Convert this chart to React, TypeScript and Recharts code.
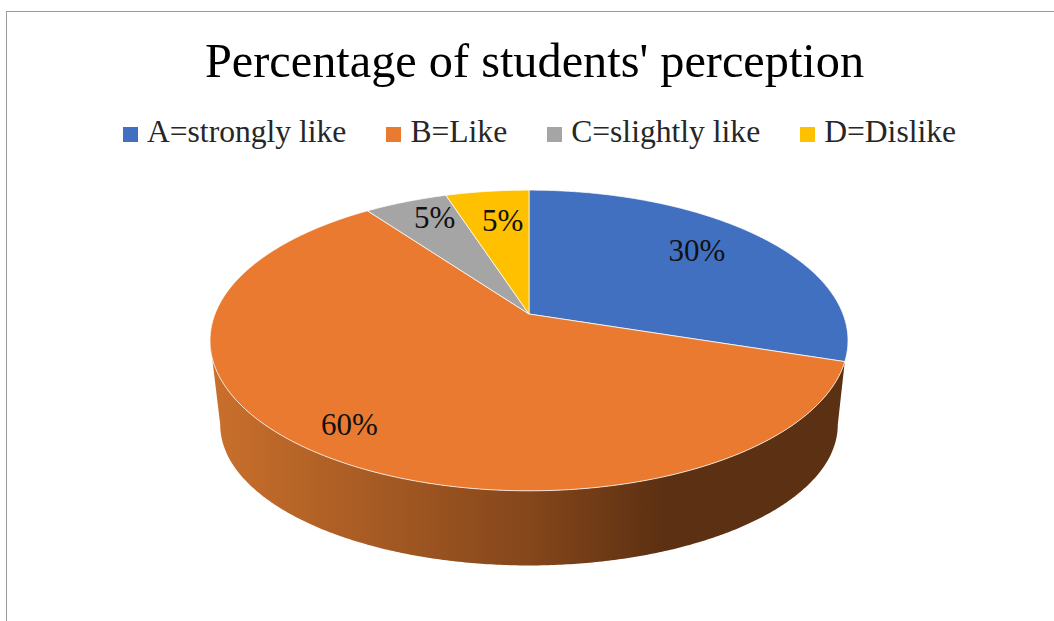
import { PieChart, Pie, Legend } from "recharts";

const categories = ["A=strongly like", "B=Like", "C=slightly like", "D=Dislike"];
const shares = [30, 60, 5, 5];
const colors = ["#4270c0", "#ea7a30", "#a5a5a5", "#ffc000"];

const tableData = categories.map((name, i) => ({ name, value: shares[i], fill: colors[i] }));

const SERIF = '"Liberation Serif", "Times New Roman", serif';

// how far out along the radius each percentage sits, plus a small hand nudge
const labelReach = [0.7, 0.85, 0.72, 0.72];
const labelNudge = [
  [2, -8],
  [-1, -3],
  [-2, -13],
  [5, -1],
];

// tilt of the disc: far side is squeezed, near side is stretched
const TILT = -0.176;
const TOP_SQUASH = 0.288;
const BASE_SCALE = 0.968;
const BASE_SQUASH = 0.21;
const BASE_DROP = 86;
// clock angles where the outline is widest, the wall is hidden outside these
const WALL_FROM = 100.1;
const WALL_TO = 259.9;

type Geo = { cx: number; cy: number; outerRadius: number };

function topPoint(g: Geo, clock: number, reach = 1) {
  const rad = (clock * Math.PI) / 180;
  const u = Math.sin(rad) * reach;
  const v = -Math.cos(rad) * reach;
  const w = 1 + TILT * v;
  return [g.cx + (g.outerRadius * u) / w, (g.outerRadius * TOP_SQUASH * v + g.cy) / w];
}

function basePoint(g: Geo, clock: number) {
  const rad = (clock * Math.PI) / 180;
  const u = Math.sin(rad);
  const v = -Math.cos(rad);
  const w = 1 + TILT * v;
  return [
    g.cx + (g.outerRadius * BASE_SCALE * u) / w,
    (g.outerRadius * BASE_SQUASH * v + g.cy + BASE_DROP) / w,
  ];
}

function sweep(from: number, to: number, at: (clock: number) => number[]) {
  const pts: number[][] = [];
  const steps = Math.max(1, Math.ceil(Math.abs(to - from) * 2));
  for (let i = 0; i <= steps; i++) pts.push(at(from + ((to - from) * i) / steps));
  return pts;
}

function toPath(pts: number[][]) {
  return pts.map((p, i) => `${i ? "L" : "M"}${p[0].toFixed(2)} ${p[1].toFixed(2)}`).join(" ") + " Z";
}

// eslint-disable-next-line @typescript-eslint/no-explicit-any
function DiscSlice(props: any) {
  const { cx, cy, outerRadius, startAngle, endAngle, fill, index } = props;
  const g = { cx, cy, outerRadius };
  const from = 90 - startAngle;
  const to = 90 - endAngle;
  const rim = sweep(from, to, (c) => topPoint(g, c));
  const showWall = index === 1;
  return (
    <g>
      {showWall && (
        <>
          <defs>
            <linearGradient id="wallShade" gradientUnits="userSpaceOnUse" x1="215" y1="0" x2="848" y2="0">
              <stop offset="0" stopColor="#c96f2c" />
              <stop offset="0.5" stopColor="#84461b" />
              <stop offset="0.71" stopColor="#5c3012" />
              <stop offset="1" stopColor="#5c3012" />
            </linearGradient>
          </defs>
          <path
            d={toPath([
              ...sweep(from, WALL_TO, (c) => topPoint(g, c)),
              ...sweep(WALL_TO, WALL_FROM, (c) => basePoint(g, c)),
            ])}
            fill="url(#wallShade)"
          />
        </>
      )}
      <path d={toPath([[cx, cy], ...rim])} fill={fill} stroke="#fff" strokeOpacity={0.75} strokeWidth={1} />
    </g>
  );
}

// eslint-disable-next-line @typescript-eslint/no-explicit-any
function SliceLabel(props: any) {
  const { cx, cy, outerRadius, midAngle, index, value } = props;
  const [x, y] = topPoint({ cx, cy, outerRadius }, 90 - midAngle, labelReach[index]);
  return (
    <text
      x={x + labelNudge[index][0]}
      y={y + labelNudge[index][1]}
      textAnchor="middle"
      dominantBaseline="central"
      fontFamily={SERIF}
      fontSize={31}
      fill="#111"
    >
      {value}%
    </text>
  );
}

export default function App() {
  return (
    <div style={{ position: "fixed", left: 0, top: 0, width: 1054, height: 621, overflow: "hidden", background: "#fff" }}>
      <div
        style={{
          position: "absolute",
          left: 6,
          top: 11,
          width: 1060,
          height: 620,
          borderTop: "1.5px solid #9a9a9a",
          borderLeft: "1.5px solid #9a9a9a",
        }}
      />
      <PieChart width={1054} height={621} margin={{ top: 0, right: 0, bottom: 0, left: 0 }} style={{ position: "absolute" }}>
        <text x={534.5} y={76.5} textAnchor="middle" fontFamily={SERIF} fontSize={48.3} fill="#000">
          Percentage of students' perception
        </text>
        <Legend
          verticalAlign="top"
          iconType="square"
          iconSize={15}
          wrapperStyle={{ top: 114, left: 0, width: 1119, fontFamily: SERIF, fontSize: 31.6 }}
          formatter={(value: string) => (
            <span style={{ color: "#262626", marginLeft: 5, marginRight: 30 }}>{value}</span>
          )}
        />
        <Pie
          data={tableData}
          dataKey="value"
          nameKey="name"
          cx={529}
          cy={278}
          outerRadius={314}
          startAngle={90}
          endAngle={-270}
          shape={DiscSlice}
          label={SliceLabel}
          labelLine={false}
          isAnimationActive={false}
        />
      </PieChart>
    </div>
  );
}
